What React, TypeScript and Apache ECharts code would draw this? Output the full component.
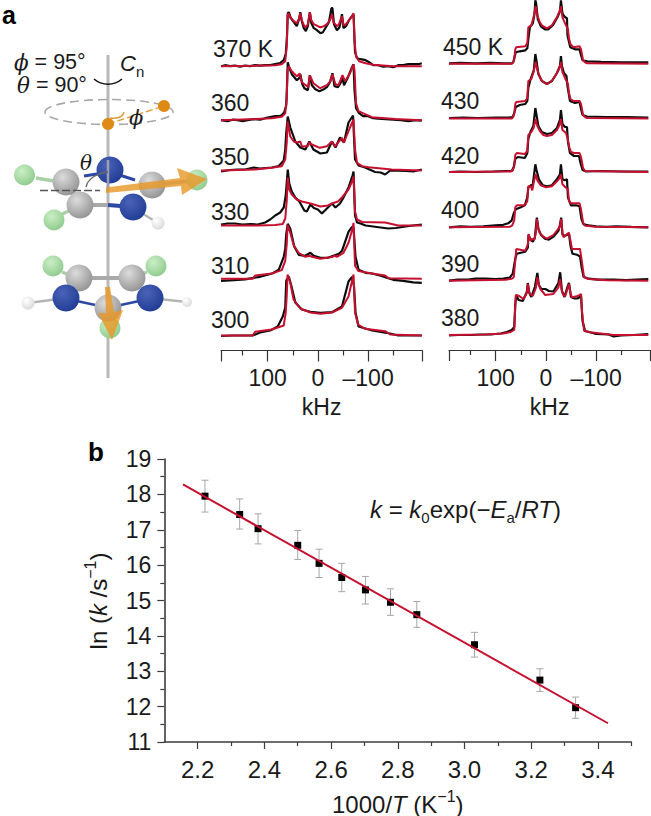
import React, { useEffect, useRef } from "react";
import * as echarts from "echarts";

// ---- panel a: spectra, [kHz, height above the trace's baseline]
const fit370 = [[193,0],[125,0.5],[85,1],[72,2],[65,5],[62,20],[60.5,50],[59,53],[55,49],[48,45],[42,43],[38,47],[35,53],[32,46],[28,41],[24,39],[20,42],[16,54],[13,46],[8,42],[0,40],[-5,39],[-12,40],[-18,42],[-24,46],[-28,52],[-31,44],[-38,40],[-42,42],[-48,50],[-51,41],[-56,42],[-62,46],[-68,50],[-71,53],[-73,25],[-76,10],[-82,5],[-95,3],[-110,1.5],[-150,0],[-207,0]];
const exp370 = [[193,0],[185,1],[175,0],[165,0.5],[155,-0.5],[145,0.5],[135,0],[125,1],[115,0.5],[105,1],[95,1],[85,2],[75,3],[68,6],[64,12],[61.5,30],[60,53],[58,54],[54,48],[48,44],[42,40],[37,48],[35,54],[32,45],[28,38],[24,35],[20,40],[16,54],[13,43],[8,38],[2,36],[-5,33],[-10,34],[-16,39],[-22,44],[-27,58],[-29,58],[-32,42],[-38,36],[-43,39],[-48,52],[-51,38],[-56,40],[-62,46],[-68,50],[-71,52],[-74,14],[-78,8],[-85,7],[-95,6],[-102,4],[-110,1],[-120,1],[-130,-0.5],[-140,0],[-150,-1],[-160,1],[-170,1],[-180,2],[-190,2],[-200,2],[-207,3]];
const fit360 = [[193,0],[125,1.3],[92,2],[72,3.5],[65,7],[62,22],[60.5,50],[58,54],[52,49],[42,44],[36,46.7],[32,38],[19,33],[16,44.7],[9,37],[-4.6,32],[-18,35],[-25,39],[-29,46],[-35,36],[-41,35],[-49,45],[-54,39],[-64,47],[-71,55.7],[-73,50],[-76,17],[-81,9],[-94,6],[-108,3],[-154,1.3],[-207,0]];
const exp360 = [[193,0],[180,-1],[170,0.5],[160,0],[150,-1],[140,0],[128,1],[115,0.5],[105,2],[95,3],[85,4],[78,4],[72,5],[67,8],[63,15],[61.5,35],[60,58],[58,54],[52,46],[42,40],[37,42],[35,46],[31,36],[27,32],[20,30],[16,45],[12,35],[5,31],[-3,29],[-12,31],[-18,33],[-24,38],[-29,47],[-33,34],[-40,33],[-46,38],[-49,44],[-52,35],[-60,43],[-68,53],[-71,56],[-73,30],[-76,12],[-82,7],[-90,4],[-100,4],[-110,2],[-120,1.5],[-135,1],[-150,0.5],[-165,0],[-180,-1],[-195,0],[-207,-0.5]];
const fit350 = [[193,0],[125,1],[92,2.7],[72,4.3],[65,11],[62,28],[60.4,49],[55,34],[48,29],[41,28],[35,29],[32,24],[20,24.5],[17,28],[12,26],[-4,22.7],[-18,24.3],[-28,29],[-34,24],[-48,32.7],[-52,28],[-64,43],[-71,51],[-74,21],[-78,7.7],[-88,4.3],[-101,3.3],[-147,1],[-207,0]];
const exp350 = [[193,-1],[175,0.5],[160,1],[145,1],[128,3],[115,2],[92,3],[78,4.5],[68,10],[65,21],[63,38],[60,54],[55,43],[45,29],[35,23],[25,21],[17,29],[9,21],[-5,17],[-18,18],[-28,29],[-35,23],[-44,33],[-52,28],[-61,48],[-70,55],[-74,11],[-81,5],[-94,3],[-114,-1.5],[-125,-2],[-134,-4],[-144,0],[-175,-0.5],[-190,-1],[-207,1]];
const fit330 = [[193,0],[120,0],[85,0.5],[70,1.5],[65,7],[62,25],[60,48],[57,36],[52,31],[42,26],[32,24],[15,22],[8,21],[-5,19],[-20,20],[-28,22],[-40,24],[-48,28],[-61,36],[-69,45],[-71,49],[-74,14],[-78,6],[-88,3.5],[-134,3],[-160,0],[-207,0]];
const exp330 = [[193,1],[180,2],[165,2],[150,1],[135,1.5],[120,1],[105,3],[95,6],[85,10],[75,13],[68,18],[64,30],[60,56],[57,42],[52,34],[45,28],[37,24],[27,15],[22,14],[15,21],[8,17.5],[0,16],[-8,12],[-18,17],[-28,22],[-35,18],[-44,22],[-50,27],[-61,38],[-69,50],[-71,54],[-74,10],[-78,3],[-85,2],[-95,0],[-110,-1],[-125,-2],[-140,-3],[-155,-2.5],[-175,-1],[-190,0],[-207,1]];
const fit310 = [[193,0],[130,0],[125,3.3],[92,5.3],[72,8.7],[65,18],[62,35],[60.4,54],[55,46],[48.5,34],[38.5,26],[25,22],[15,23],[12,22],[-5,20],[-28,21.7],[-33,23],[-38,22],[-51,26],[-61,36],[-69,50],[-71,56],[-74,13],[-81,7.7],[-108,5.3],[-134,3.3],[-141,0.5],[-207,0]];
const exp310 = [[193,-2],[175,-1.5],[160,-1],[145,-0.5],[128,1],[115,2],[100,4],[90,5.5],[78,9],[68,22],[65,30],[63,45],[60,55],[55,50],[47,32],[38,24],[25,23],[15,26],[8,23],[-5,21],[-20,21],[-28,22.5],[-42,25],[-48,28],[-61,47],[-68,52],[-71,51],[-75,22],[-81,9],[-95,6],[-108,5.3],[-125,3],[-137,1],[-150,-1],[-170,-2],[-190,-3.5],[-207,-4]];
const fit300 = [[193,0],[130,0],[125,3.7],[92,6],[68,10],[64,23],[62,40],[60.4,61],[55,53],[48.5,36],[35,27],[15,23],[-5,21.7],[-28,23],[-48,27.7],[-61,39],[-71,61],[-74,23],[-80,11],[-94,6.7],[-134,4.3],[-144,1],[-207,0]];
const exp300 = [[193,-0.5],[170,0],[150,0],[130,0],[115,3],[95,5],[80,9],[70,19],[65,28],[63,55],[58,59],[53,50],[45,33],[32,26],[15,23.7],[-5,22.7],[-28,23.3],[-48,29],[-61,54],[-68,58.7],[-72,49],[-75,23],[-81,9],[-108,5],[-137,2.7],[-160,0],[-207,0]];

const fit450 = [[193,-0.5],[100,-0.5],[68,-0.5],[65,1],[63,4],[61,14],[59,16],[41,17],[37,20],[35,36],[29,38],[24.5,46],[20.5,57],[17,48],[12,41],[8,38],[-2,35],[-12,38],[-22,46],[-27,52],[-30,57],[-33,46],[-40,38],[-44,34],[-46,25],[-49,19],[-55,16],[-67,17],[-70,14],[-74,3],[-78,1],[-82,0],[-204,-0.5]];
const exp450 = [[193,0],[170,0.5],[140,0],[110,0.5],[85,0],[68,0],[65,1],[62.5,6],[60,11],[52,12],[41,13],[37,15],[35,24],[32,36],[26,40],[22.5,50],[21,63],[19.5,60],[16,44],[10,37],[2,34],[-5,34],[-14,38],[-23,46],[-28,52],[-30,63],[-33,50],[-35,48],[-38.5,46],[-42,45],[-43,28],[-48.5,16],[-58,14],[-67,14],[-70,8],[-73,3],[-82,2],[-110,1.5],[-150,1],[-204,1]];
const fit430 = [[193,-0.5],[68,-0.5],[65,1],[63,4],[61,14],[59,16],[41,17],[37,20],[35,37],[29,39],[24.5,46],[20.5,56],[17,48],[12,41],[8,37],[-2,34],[-12,37],[-22,45],[-27,50],[-30,56],[-33,46],[-40,38],[-44,34],[-46,25],[-49,19],[-55,17],[-67,17],[-70,14],[-74,3],[-78,1],[-82,0],[-204,-0.5]];
const exp430 = [[193,0],[165,0.5],[135,0],[100,0.5],[75,0.5],[66,1],[62.5,6],[60,11],[52,13],[41,14],[37,17],[35,30],[31,38],[24,48],[21,64],[19,58],[15,44],[8,37],[-2,34],[-12,37],[-22,45],[-28,52],[-30,62],[-32,52],[-36,45],[-41,42],[-43,32],[-48,17],[-58,15],[-67,16],[-70,9],[-73,3],[-82,1.5],[-120,1],[-160,1],[-204,0.5]];
const fit420 = [[193,0],[70,0.5],[66,1.5],[63,6],[61,17],[58,19],[42,18],[37,21],[35,37],[29,40],[24.5,44],[20.5,53],[17,46],[12,41],[5,37],[-2,36],[-12,37],[-22,42],[-27,47],[-30,53],[-33,42],[-40,39],[-44,32],[-47,24],[-50,20],[-56,19],[-67,19],[-70,15],[-74,4],[-78,1],[-204,0]];
const exp420 = [[193,0],[170,0.5],[140,0],[105,0.5],[80,1],[68,1],[64,5],[61,13],[56,15],[42,14],[37,19],[35,33],[31,40],[25,46],[21,64],[19,58],[15,46],[8,40],[-2,38],[-12,39],[-22,44],[-28,52],[-30,62],[-33,48],[-38,45],[-42,45],[-44,30],[-48,19],[-56,16],[-66,16],[-69,9],[-73,2],[-80,0.5],[-110,1],[-150,0.5],[-204,0.5]];
const fit400 = [[193,0],[72,0.5],[67,2],[63,7],[61,20],[58,22],[42,22],[37,26],[35,41],[30,41],[27,37],[24.5,44],[20.5,53],[17,47],[10,42],[0,40],[-12,41],[-22,46],[-27,49],[-30,53],[-33,43],[-40,39.5],[-44,38],[-46,26],[-50,24],[-56,24],[-67,24],[-70,18],[-74,5],[-78,1.5],[-100,0.5],[-204,0]];
const exp400 = [[193,0],[170,1],[150,0.5],[125,1],[100,2],[85,2.5],[75,4],[68,7],[64,14],[60,18],[50,20],[42,22],[37,30],[35,40],[30,42],[26,43],[21,63],[19,58],[14,48],[6,42],[-2,41],[-12,42],[-22,48],[-28,53],[-30,63],[-33,48],[-38,47],[-42,48],[-44,30],[-50,22],[-60,22],[-67,21],[-71,8],[-75,3],[-85,2],[-100,1],[-120,0.5],[-140,1],[-170,0.5],[-204,0]];
const fit390 = [[193,0],[80,1],[68,2],[64,3.5],[61,20],[59,31.7],[51,31],[41,30],[36,36],[34.5,46.7],[31,40],[28,41.7],[23,41],[20,48],[18,61.7],[15,52],[12.6,48],[5,44],[-2,42],[-15,45.7],[-25,52],[-28,55],[-30.5,61.7],[-33,48],[-35,43.3],[-42,46.7],[-46,48],[-49,40],[-52,31.7],[-68,31.7],[-72,18],[-76,3.3],[-85,1.7],[-120,0.5],[-204,0]];
const exp390 = [[193,0],[175,1],[155,1],[140,2],[120,2],[100,1.5],[85,2],[72,3],[66,7],[61,22],[58,27],[50,28],[41,29],[36,33],[34.5,46],[31,41],[26,39],[22,43],[18,63],[15,52],[10,46],[2,42],[-6,41],[-15,44],[-25,50],[-28,56],[-30.5,63],[-33,46],[-38,45],[-43,46],[-46,47],[-49,35],[-53,27],[-62,26],[-68,24],[-71,14],[-75,4],[-85,2],[-105,1],[-135,1],[-160,0.5],[-180,1],[-204,1.5]];
const fit380 = [[193,0],[120,0.5],[85,1.5],[70,3],[63,5],[61,30],[60,40],[54.5,39.3],[44.5,36],[38,42],[36,51],[33,42],[31,41],[26,39],[20,47],[17,57.7],[14,50],[11,46],[1.3,40],[-15,41],[-25,47.7],[-28.5,56],[-31,46],[-34,41],[-38.5,38.7],[-43,46],[-46,51],[-49,42],[-52,37.7],[-62,38.7],[-70,41],[-72,23],[-76,4.3],[-88,2.7],[-135,0],[-204,0]];
const exp380 = [[193,-0.5],[175,0],[150,0],[130,0.5],[110,0.5],[90,1.5],[78,3],[68,5],[63,8],[61,30],[59,40],[54.5,35],[46,34],[38,43],[36,52],[33,42],[29,38],[22,48],[17,62],[14,50],[9,46],[1,46],[-6,44],[-15,43.5],[-25,52],[-28.5,62.7],[-32,44],[-37,38],[-43,48],[-46,52],[-50,38],[-57,36.5],[-63,36.5],[-70,39],[-73,14],[-78,4],[-88,2.7],[-100,1],[-125,0.5],[-135,-1.5],[-150,-0.5],[-175,0],[-204,1]];

const leftTraces = [
  { base: 284.3, fit: fit370, exp: exp370 },
  { base: 230.3, fit: fit360, exp: exp360 },
  { base: 180, fit: fit350, exp: exp350 },
  { base: 125, fit: fit330, exp: exp330 },
  { base: 71.7, fit: fit310, exp: exp310 },
  { base: 15, fit: fit300, exp: exp300 },
];
const rightTraces = [
  { base: 286.7, fit: fit450, exp: exp450 },
  { base: 232, fit: fit430, exp: exp430 },
  { base: 178, fit: fit420, exp: exp420 },
  { base: 122.7, fit: fit400, exp: exp400 },
  { base: 69.3, fit: fit390, exp: exp390 },
  { base: 15, fit: fit380, exp: exp380 },
];
const kHzMajor = [193, 100, 0, -100, -208];
const kHzMinor = [150, 50, -50, -150];
const kHzLabels = [100, 0, -100];

// ---- panel b: Arrhenius plot
const inverseT = [2.222, 2.326, 2.381, 2.5, 2.564, 2.632, 2.703, 2.778, 2.857, 3.03, 3.226, 3.333];
const lnK = [17.95, 17.43, 17.03, 16.56, 16.05, 15.65, 15.3, 14.95, 14.6, 13.75, 12.75, 11.97];
const lnKHigh = [18.4, 17.87, 17.45, 16.98, 16.45, 16.05, 15.68, 15.33, 14.97, 14.1, 13.07, 12.27];
const lnKLow = [17.5, 17.02, 16.6, 16.16, 15.65, 15.25, 14.9, 14.58, 14.24, 13.4, 12.43, 11.67];
const fitLine = [[2.156, 18.28], [3.43, 11.53]];
const xMajor = [2.2, 2.4, 2.6, 2.8, 3.0, 3.2, 3.4];
const xMinor = [2.3, 2.5, 2.7, 2.9, 3.1, 3.3, 3.5];

const FONT = "Liberation Sans";
const RED = "#c6102f";
const AXIS = "#3c3c3c";
const TICKC = "#333";
const INK = "#1a1a1a";

const shift = (t: number[][], base: number) => t.map(([f, a]) => [f, a + base]);

function atom(x: number, y: number, r: number, dark: string, light: string) {
  return {
    type: "circle",
    shape: { cx: x, cy: y, r },
    style: {
      fill: new echarts.graphic.RadialGradient(0.38, 0.32, 0.75, [
        { offset: 0, color: light },
        { offset: 1, color: dark },
      ]),
    },
  };
}
const green = (x: number, y: number) => atom(x, y, 10.5, "#8cc98c", "#cbeec5");
const gray = (x: number, y: number) => atom(x, y, 13.5, "#8f8f8f", "#dcdcdc");
const blue = (x: number, y: number) => atom(x, y, 13.5, "#1f3a94", "#4a63b8");
const white = (x: number, y: number, r: number) => atom(x, y, r, "#d8d8d8", "#ffffff");
const bond = (x1: number, y1: number, x2: number, y2: number, c: string, w = 3.5) => ({
  type: "line",
  shape: { x1, y1, x2, y2 },
  style: { stroke: c, lineWidth: w },
});
const txt = (x: number, y: number, text: string, fontSize = 23, extra: any = {}) => ({
  type: "text",
  x,
  y,
  style: { text, fontSize, fontFamily: FONT, fill: INK, verticalAlign: "middle", ...extra },
});

const mathRich = {
  r: { fontSize: 24, fontFamily: FONT, fill: INK },
  i: { fontSize: 24, fontFamily: FONT, fontStyle: "italic", fill: INK },
  sub: { fontSize: 15, fontFamily: FONT, fill: INK, verticalAlign: "bottom", lineHeight: 32 },
  sup: { fontSize: 15, fontFamily: FONT, fill: INK, verticalAlign: "top", lineHeight: 32 },
};
const axisRich = {
  r: { fontSize: 24, fontFamily: FONT, fill: INK, color: INK },
  i: { fontSize: 24, fontFamily: FONT, fontStyle: "italic", fill: INK, color: INK },
  sup: { fontSize: 16, fontFamily: FONT, fill: INK, color: INK, verticalAlign: "top", lineHeight: 32 },
};
const greekRich = {
  r: { fontSize: 21.5, fontFamily: FONT, fill: INK },
  i: { fontSize: 21.5, fontFamily: "DejaVu Serif", fontStyle: "italic", fill: INK },
};

const molecule: any[] = [
  // rotation axis
  bond(108, 55, 108, 378, "#b9b9b9", 3),
  // top: rotation circle
  { type: "ellipse", shape: { cx: 109, cy: 112, rx: 64, ry: 12.5 }, style: { fill: "none", stroke: "#a8a8a8", lineWidth: 1.6, lineDash: [9, 5] } },
  { type: "line", shape: { x1: 108, y1: 124, x2: 164, y2: 106 }, style: { stroke: "#e29a35", lineWidth: 1.4, lineDash: [7, 3] } },
  { type: "bezierCurve", shape: { x1: 110, y1: 118, x2: 124, y2: 112, cpx1: 117, cpy1: 119, cpx2: 123, cpy2: 117 }, style: { fill: "none", stroke: "#e29a35", lineWidth: 1.4 } },
  { type: "circle", shape: { cx: 108, cy: 124, r: 6 }, style: { fill: "#de8a16" } },
  { type: "circle", shape: { cx: 164, cy: 106, r: 6 }, style: { fill: "#de8a16" } },
  { type: "bezierCurve", shape: { x1: 94, y1: 79, x2: 122, y2: 79, cpx1: 102, cpy1: 86, cpx2: 114, cpy2: 86 }, style: { fill: "none", stroke: "#111", lineWidth: 1.6 } },
  // upper ring
  bond(36, 178, 60, 182, "#a9cfa5"),
  bond(56, 217, 75, 208, "#a9cfa5"),
  bond(152, 185, 190, 181, "#a9a9a9"),
  bond(66, 182, 80, 205, "#a9a9a9", 5),
  bond(80, 205, 108, 205, "#a9a9a9", 4),
  bond(108, 205, 133, 207, "#2c48a5", 4),
  bond(84, 176, 110, 172, "#2c48a5", 3),
  bond(110, 172, 135, 180, "#2c48a5", 3),
  bond(140, 212, 158, 223, "#b5b5b5", 2.5),
  green(24.5, 175),
  green(54, 220),
  gray(66, 182),
  blue(110, 170),
  gray(152, 185),
  gray(80, 205),
  blue(133, 207),
  white(158, 223, 6.5),
  green(197, 180),
  bond(108, 160, 108, 192, "#9c9fb0", 2.5),
  { type: "line", shape: { x1: 40, y1: 190.5, x2: 100, y2: 190.5 }, style: { stroke: "#555", lineWidth: 1.3, lineDash: [8, 3] } },
  { type: "bezierCurve", shape: { x1: 86, y1: 187, x2: 108, y2: 172, cpx1: 88, cpy1: 178, cpx2: 98, cpy2: 173 }, style: { fill: "none", stroke: "#666", lineWidth: 1.3 } },
  { type: "polygon", shape: { points: [[106, 187.5], [180, 178], [177, 168], [207, 179], [182, 195], [181, 186], [106, 193]] }, style: { fill: "rgba(232,152,40,0.82)" } },
  // lower ring
  bond(62, 272, 72, 276, "#a9cfa5"),
  bond(147, 272, 137, 276, "#a9cfa5"),
  bond(79, 278, 132, 278, "#a9a9a9", 4),
  bond(72, 300, 100, 306, "#2c48a5", 2.5),
  bond(144, 300, 116, 306, "#2c48a5", 2.5),
  bond(28, 303, 66, 298, "#b5b5b5", 2.5),
  bond(187, 302, 150, 298, "#b5b5b5", 2.5),
  green(53, 266),
  green(156, 266),
  gray(79, 278),
  gray(132, 278),
  blue(66, 298),
  blue(150, 298),
  green(110, 328),
  gray(108, 308),
  white(28, 303, 6.5),
  white(187, 302, 5),
  { type: "polygon", shape: { points: [[105, 287], [110, 287], [114, 312], [123, 310], [112, 340], [98, 313], [106, 313]] }, style: { fill: "rgba(232,152,40,0.82)" } },
];

const texts: any[] = [
  txt(2, 15, "a", 25, { fontWeight: "bold", fill: "#000" }),
  txt(88, 452, "b", 26, { fontWeight: "bold", fill: "#000" }),
  { type: "text", x: 14, y: 62, style: { text: "{i|ϕ}{r| = 95°}", rich: greekRich, verticalAlign: "middle" } },
  { type: "text", x: 17, y: 85, style: { text: "{i|θ}{r| = 90°}", rich: greekRich, verticalAlign: "middle" } },
  {
    type: "text", x: 120, y: 63,
    style: { text: "{i|C}{sub|n}", rich: { i: { fontSize: 22, fontFamily: FONT, fontStyle: "italic", fill: INK }, sub: mathRich.sub }, verticalAlign: "middle" },
  },
  { type: "text", x: 129, y: 118, style: { text: "ϕ", fontSize: 21, fontFamily: "DejaVu Serif", fontStyle: "italic", fill: INK, verticalAlign: "middle" } },
  { type: "text", x: 80, y: 163, style: { text: "θ", fontSize: 20, fontFamily: "DejaVu Serif", fontStyle: "italic", fill: INK, verticalAlign: "middle" } },
  txt(213, 49, "370 K"),
  txt(211, 103, "360"),
  txt(211, 157, "350"),
  txt(211, 212, "330"),
  txt(211, 266, "310"),
  txt(211, 320, "300"),
  txt(443, 47, "450 K"),
  txt(441, 101, "430"),
  txt(441, 156, "420"),
  txt(441, 210, "400"),
  txt(441, 264, "390"),
  txt(441, 318, "380"),
  {
    type: "text", x: 370, y: 509,
    style: {
      text: "{i|k}{r| = }{i|k}{sub|0}{r|exp(−}{i|E}{sub|a}{r|/}{i|RT}{r|)}",
      rich: mathRich, verticalAlign: "middle",
    },
  },
  {
    type: "text", x: 98, y: 601, rotation: Math.PI / 2,
    style: {
      text: "{r|ln (}{i|k}{r| /s}{sup|−1}{r|)}",
      rich: axisRich, align: "center", verticalAlign: "middle",
    },
  },
];

function spectrumSeries(traces: typeof leftTraces, axis: number) {
  const out: any[] = [];
  for (const t of traces) {
    out.push({
      type: "line", xAxisIndex: axis, yAxisIndex: axis / 2, data: shift(t.exp, t.base),
      symbol: "none", clip: false, lineStyle: { color: "#0d0d0d", width: 2.2 }, silent: true,
    });
    out.push({
      type: "line", xAxisIndex: axis, yAxisIndex: axis / 2, data: shift(t.fit, t.base),
      symbol: "none", clip: false, lineStyle: { color: RED, width: 2 }, silent: true,
    });
  }
  return out;
}

function spectrumAxes(grid: number) {
  const common = { type: "value", gridIndex: grid, position: "bottom", min: -208, max: 193, inverse: true, splitLine: { show: false } };
  return [
    {
      ...common,
      name: "kHz",
      nameLocation: "middle",
      nameGap: 45,
      nameTextStyle: { fontSize: 23, fontFamily: FONT, color: INK },
      axisLine: { onZero: false, lineStyle: { color: TICKC, width: 1.2 } },
      axisTick: { customValues: kHzMajor, length: 11, lineStyle: { color: TICKC, width: 1.2 } },
      axisLabel: {
        customValues: kHzLabels, margin: 16, fontSize: 23, fontFamily: FONT, color: INK,
        formatter: (v: number) => (v < 0 ? "–" + Math.abs(v) : String(v)),
      },
    },
    {
      ...common,
      axisLine: { onZero: false, show: false },
      axisTick: { customValues: kHzMinor, length: 5, lineStyle: { color: TICKC, width: 1.2 } },
      axisLabel: { show: false },
    },
  ];
}

export default function App() {
  const ref = useRef<HTMLDivElement>(null);
  useEffect(() => {
    document.body.style.margin = "0";
    const chart = echarts.init(ref.current!, undefined, { renderer: "svg" });
    chart.setOption({
      animation: false,
      backgroundColor: "#fff",
      grid: [
        { left: 221, width: 201.3, top: 0, height: 350.5, outerBoundsMode: "none" },
        { left: 449, width: 201.3, top: 0, height: 350, outerBoundsMode: "none" },
        { left: 164.3, width: 467, top: 459, height: 283, outerBoundsMode: "none" },
      ],
      xAxis: [
        ...spectrumAxes(0),
        ...spectrumAxes(1),
        {
          type: "value", gridIndex: 2, position: "bottom", min: 2.1, max: 3.5,
          name: "{r|1000/}{i|T}{r| (K}{sup|−1}{r|)}",
          nameLocation: "middle", nameGap: 46,
          nameTextStyle: { color: INK, rich: axisRich },
          splitLine: { show: false },
          axisLine: { onZero: false, lineStyle: { color: AXIS, width: 1.6 } },
          axisTick: { customValues: xMajor, length: 7, lineStyle: { color: AXIS, width: 1.2 } },
          axisLabel: {
            customValues: xMajor, margin: 15, fontSize: 24, fontFamily: FONT, color: INK,
            formatter: (v: number) => v.toFixed(1),
          },
        },
        {
          type: "value", gridIndex: 2, position: "bottom", min: 2.1, max: 3.5,
          splitLine: { show: false },
          axisLine: { onZero: false, show: false },
          axisTick: { customValues: xMinor, length: 4, lineStyle: { color: AXIS, width: 1.2 } },
          axisLabel: { show: false },
        },
      ],
      yAxis: [
        { type: "value", gridIndex: 0, min: 0, max: 350.5, show: false },
        { type: "value", gridIndex: 1, min: 0, max: 350, show: false },
        {
          type: "value", gridIndex: 2, min: 11, max: 19, interval: 1,
          splitLine: { show: false },
          axisLine: { onZero: false, lineStyle: { color: AXIS, width: 1.6 } },
          axisTick: { length: 7, lineStyle: { color: AXIS, width: 1.2 } },
          minorTick: { show: true, splitNumber: 2, length: 4, lineStyle: { color: AXIS, width: 1.2 } },
          axisLabel: { margin: 13, fontSize: 23, fontFamily: FONT, color: INK },
        },
      ],
      graphic: { elements: [...molecule, ...texts] },
      series: [
        ...spectrumSeries(leftTraces, 0),
        ...spectrumSeries(rightTraces, 2),
        {
          type: "custom", xAxisIndex: 4, yAxisIndex: 2, silent: true,
          data: inverseT.map((x, i) => [x, lnKLow[i], lnKHigh[i]]),
          encode: { x: 0, y: [1, 2] },
          renderItem: (_p: any, api: any) => {
            const lo = api.coord([api.value(0), api.value(1)]);
            const hi = api.coord([api.value(0), api.value(2)]);
            const st = { stroke: "#a6a6a6", lineWidth: 1, fill: "none" };
            return {
              type: "group",
              children: [
                { type: "line", shape: { x1: lo[0], y1: lo[1], x2: hi[0], y2: hi[1] }, style: st },
                { type: "line", shape: { x1: lo[0] - 3.5, y1: lo[1], x2: lo[0] + 3.5, y2: lo[1] }, style: st },
                { type: "line", shape: { x1: hi[0] - 3.5, y1: hi[1], x2: hi[0] + 3.5, y2: hi[1] }, style: st },
              ],
            };
          },
        },
        {
          type: "line", xAxisIndex: 4, yAxisIndex: 2, silent: true, data: fitLine,
          symbol: "none", lineStyle: { color: RED, width: 2 },
        },
        {
          type: "scatter", xAxisIndex: 4, yAxisIndex: 2, silent: true,
          data: inverseT.map((x, i) => [x, lnK[i]]),
          symbol: "rect", symbolSize: 7, itemStyle: { color: "#000", opacity: 1 },
        },
      ],
    });
    return () => chart.dispose();
  }, []);
  return <div ref={ref} style={{ position: "absolute", left: 0, top: 0, width: 651, height: 816 }} />;
}
